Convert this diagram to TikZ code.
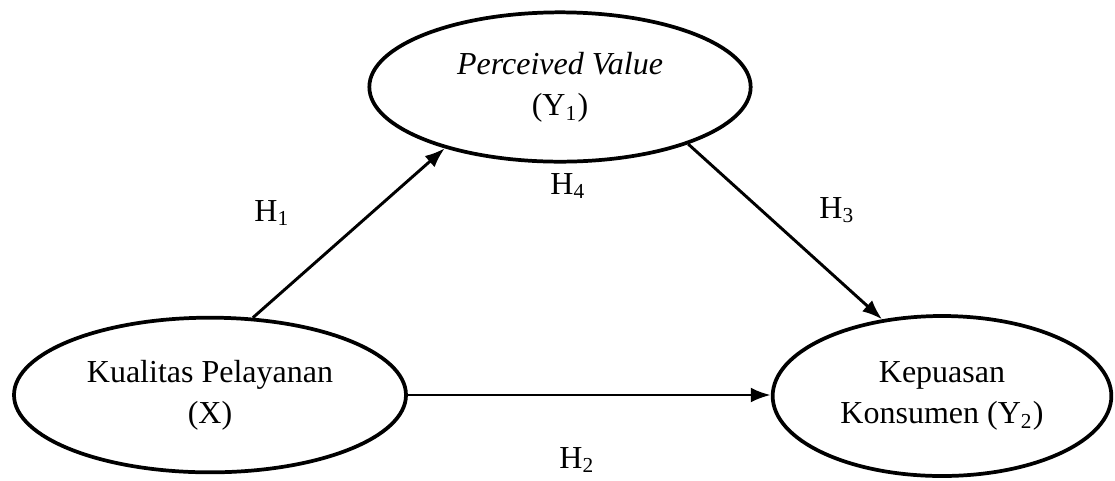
\documentclass[tikz,border=0pt]{standalone}
\usepackage{fontspec}
\setmainfont{Liberation Serif}
\usetikzlibrary{shapes,arrows.meta,positioning}

\begin{document}
\begin{tikzpicture}[x=0.375pt,y=-0.375pt,
    var/.style={ellipse, draw, line width=1.4pt, align=center, inner sep=0pt, font=\fontsize{12}{15.5}\selectfont},
    hyp/.style={line width=1.1pt, -{Latex[length=7.5pt,width=5.6pt]}},
    lbl/.style={font=\fontsize{12}{14}\selectfont, anchor=base}]
  \useasboundingbox (0,0) rectangle (1115,480);
  % latent variables
  \node[var, minimum width=143pt, minimum height=56pt] (pv) at (560,87) {\textit{Perceived Value}\\(Y\textsubscript{1})};
  \node[var, minimum width=147pt, minimum height=58pt] (kp) at (210,395) {Kualitas Pelayanan\\(X)};
  \node[var, minimum width=127pt, minimum height=60pt] (ks) at (942,396) {Kepuasan\\Konsumen (Y\textsubscript{2})};
  % paths
  \draw[hyp] (kp.61) -- (pv.208);
  \draw[hyp] (pv.336) -- (ks.128);
  \draw[hyp] (kp.east) -- (kp.east -| ks.west);
  % hypothesis labels
  \node[lbl] (h1) at (272,221) {H\textsubscript{1}};
  \node[lbl] (h4) at (568,194) {H\textsubscript{4}};
  \node[lbl] (h3) at (837,218) {H\textsubscript{3}};
  \node[lbl] (h2) at (577,468) {H\textsubscript{2}};
\end{tikzpicture}
\end{document}
